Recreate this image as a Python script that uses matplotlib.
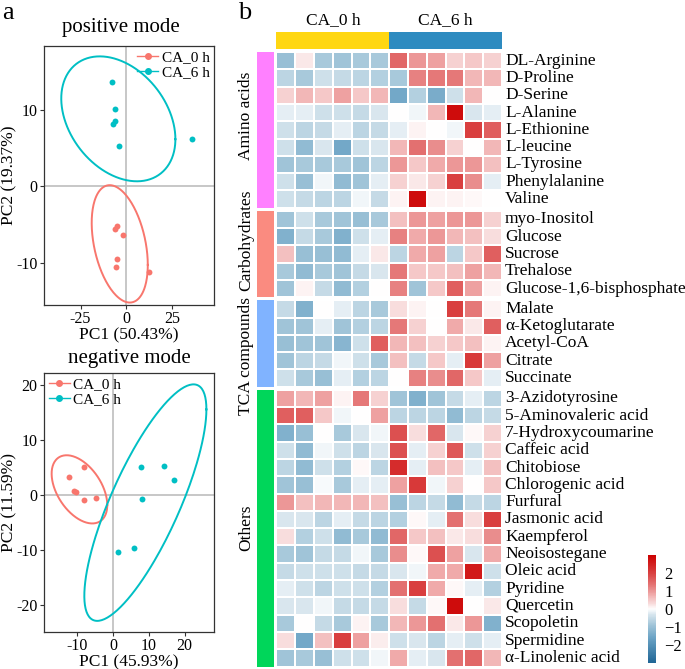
import numpy as np
import matplotlib
matplotlib.use("Agg")
import matplotlib.pyplot as plt
from matplotlib.colors import LinearSegmentedColormap
from matplotlib.lines import Line2D

plt.rcParams['font.family'] = ['Liberation Serif', 'DejaVu Serif']
plt.rcParams['axes.unicode_minus'] = False

# ---- PCA scores ----
pos_x_0h = [-4.9, -6.2, -2.0, -5.3, -5.5, 12.4]
pos_y_0h = [-5.2, -5.6, -6.4, -9.5, -10.6, -11.2]
pos_x_6h = [-7.6, -6.4, -6.2, -7.5, -4.2, 35.8]
pos_y_6h = [13.65, 10.1, 8.5, 8.1, 5.3, 6.2]

neg_x_0h = [-12.4, -8.1, -10.8, -10.25, -8.0, -4.9]
neg_y_0h = [3.1, 4.95, 0.73, 0.54, -1.03, -0.66]
neg_x_6h = [7.7, 14.35, 17.05, 8.1, 1.5, 5.8]
neg_y_6h = [4.95, 5.2, 2.66, -0.9, -10.5, -9.67]

# ---- heatmap ----
groups = ["Amino acids", "Carbohydrates", "TCA compounds", "Others"]
amino_names = ["DL-Arginine", "D-Proline", "D-Serine", "L-Alanine", "L-Ethionine",
               "L-leucine", "L-Tyrosine", "Phenylalanine", "Valine"]
amino_vals = [
    [-1.0, 0.2, -0.8, -0.9, -0.8, -0.8, 1.5, 1.0, 0.9, 0.4, 0.5, 0.4],
    [-0.6, -0.8, -0.4, -0.5, -0.6, -0.7, -0.8, 1.2, 1.3, 1.3, 0.7, 0.7],
    [0.4, 0.7, 0.5, 0.9, 0.5, 0.7, -1.5, -0.7, -1.4, -0.4, 0.7, 0.0],
    [-0.2, -0.2, -0.4, -0.4, -0.5, -0.3, 0.0, -0.1, 0.7, 2.8, -0.3, -0.2],
    [-0.4, -0.6, -0.5, -0.2, -0.6, -0.5, -0.2, 0.1, 0.0, -0.1, 2.0, 1.6],
    [-0.4, -1.1, -0.3, -1.5, -0.4, -0.3, 0.7, 1.4, 1.1, 0.4, 0.0, 0.7],
    [-0.9, -0.8, -0.8, -0.8, -0.9, -0.6, 1.0, 0.5, 0.8, 1.0, 1.0, 0.6],
    [-0.4, -1.0, -0.1, -1.1, -0.9, -0.2, 0.4, 0.2, 0.4, 2.0, 1.1, -0.2],
    [-0.4, -0.5, -0.6, -0.6, -0.1, -0.5, 0.1, 2.8, 0.1, 0.1, 0.05, 0.0],
]
carb_names = ["myo-Inositol", "Glucose", "Sucrose", "Trehalose", "Glucose-1,6-bisphosphate"]
carb_vals = [
    [-0.9, -0.4, -0.8, -0.9, -1.0, -0.8, 0.6, 1.0, 0.9, 1.0, 1.0, 0.4],
    [-1.3, -0.5, -0.8, -1.3, -0.4, -0.2, 1.2, 0.8, 1.0, 0.7, 0.6, 0.3],
    [0.6, -1.0, -1.0, -1.1, -0.2, 0.2, -0.6, 0.8, 0.9, -0.6, 0.5, 1.6],
    [-0.8, -1.1, -0.8, -0.9, -0.5, -0.3, 1.3, 0.5, 0.5, 0.6, 0.9, 0.7],
    [-0.9, 0.1, -0.5, -1.1, -0.7, 0.0, 1.2, -0.9, 0.5, 1.6, 0.9, 0.1],
]
tca_names = ["Malate", "α-Ketoglutarate", "Acetyl-CoA", "Citrate", "Succinate"]
tca_vals = [
    [-0.5, -1.3, 0.0, -0.2, -0.6, -0.8, 0.3, 0.1, 0.0, 2.0, 1.3, 0.1],
    [-0.9, -0.9, -0.2, -0.9, -0.7, -0.6, 1.3, 0.4, 0.0, 0.8, 0.2, 1.6],
    [-1.0, -0.9, -0.9, -1.2, -0.4, 1.6, 0.7, 0.6, 0.4, 0.5, 0.6, 0.1],
    [-0.9, -0.6, -0.5, -0.1, -0.4, -0.8, 0.6, -0.5, 0.5, -0.2, 2.1, 0.9],
    [-0.4, -0.8, -1.0, -0.2, -0.7, -0.6, 0.0, 1.2, 1.1, 1.5, 0.5, -0.2],
]
other_names = ["3-Azidotyrosine", "5-Aminovaleric acid", "7-Hydroxycoumarine", "Caffeic acid",
               "Chitobiose", "Chlorogenic acid", "Furfural", "Jasmonic acid", "Kaempferol",
               "Neoisostegane", "Oleic acid", "Pyridine", "Quercetin", "Scopoletin",
               "Spermidine", "α-Linolenic acid"]
other_vals = [
    [0.9, 0.7, 0.9, 0.1, 1.3, 0.4, -0.9, -1.3, -0.9, -0.5, -0.2, -0.6],
    [1.6, 1.6, 0.5, -0.1, 0.0, 0.9, -0.6, -0.6, -0.6, -1.1, -0.6, -0.5],
    [-1.3, -1.0, 0.0, -0.8, -0.3, -0.1, 1.8, 0.3, 1.5, -0.3, 0.05, 0.4],
    [-0.4, -1.1, -0.1, -0.4, -0.6, -0.3, 1.8, -0.2, 0.4, 1.7, -0.4, 0.4],
    [-0.6, -1.1, -0.4, -0.7, 0.05, -0.6, 2.3, -0.2, 0.6, 0.5, -0.2, 0.6],
    [-0.9, -1.0, -0.05, -0.8, -0.2, -0.2, 0.9, 2.1, -0.1, 0.4, 0.0, 0.5],
    [1.0, 0.6, 0.7, 0.7, 0.7, 0.6, -1.0, -0.6, -0.5, -1.1, -0.5, -0.6],
    [-0.3, -0.3, -0.6, -0.2, -0.5, -0.6, -0.7, 0.05, -0.2, 1.4, 0.3, 2.0],
    [0.3, -0.7, -0.4, -1.1, -0.8, -1.1, 1.5, 0.5, 0.6, 0.2, 0.3, 1.1],
    [-0.8, -0.9, -0.5, -0.5, -0.1, -0.8, 1.1, 0.05, 1.8, 0.9, -0.3, 0.8],
    [-0.5, -0.4, -0.4, -0.4, -0.5, -0.5, -0.3, -0.1, 0.8, 0.8, 2.6, -0.4],
    [-0.2, -0.4, -0.6, -0.4, -0.4, -0.7, 1.4, 2.0, 0.8, 0.05, -0.2, -0.7],
    [-0.3, -0.3, -0.1, -0.5, -0.5, -0.5, 0.3, -0.5, 0.05, 2.8, 0.0, 0.2],
    [-0.8, 0.0, -0.5, -0.8, 0.1, -0.8, 0.7, 1.0, 1.4, 0.2, 1.0, -1.3],
    [0.3, -1.5, 0.6, 2.0, 0.9, 0.15, -0.4, -0.3, -0.6, -0.2, -0.4, -0.2],
    [-0.9, -0.8, -1.0, -0.4, -0.4, -0.1, 0.8, -0.2, -0.3, 1.4, 1.5, 0.7],
]
col_groups = ["CA_0 h", "CA_6 h"]

RED = "#F8766D"
TEAL = "#00BFC4"
group_colors = ["#FF80FF", "#FA8B80", "#80B3FF", "#00D65A"]
col_colors = ["#FFD712", "#2E8BC0"]


def cov_trob(x, nu=5, maxit=25, tol=0.01):
    # MASS::cov.trob port (what ggplot's stat_ellipse uses)
    n, p = x.shape
    wt = np.ones(n)
    loc = x.mean(0)
    w = np.sqrt(wt)
    for _ in range(maxit):
        w0 = w
        X = x - loc
        _, d, vt = np.linalg.svd(np.sqrt(w / w.sum())[:, None] * X, full_matrices=False)
        wX = X @ vt.T @ np.diag(1 / d)
        Q = (wX ** 2).sum(1)
        w = wt * (nu + p) / (nu + Q)
        loc = (w[:, None] * x).sum(0) / w.sum()
        if np.all(np.abs(w - w0) < tol):
            break
    sX = np.sqrt(w)[:, None] * X
    return loc, sX.T @ sX / wt.sum()


def ellipse(xs, ys, level=0.95):
    pts = np.column_stack([xs, ys])
    center, shape = cov_trob(pts)
    d2 = len(xs) - 1
    qf = d2 / 2 * ((1 - level) ** (-2 / d2) - 1)
    radius = np.sqrt(2 * qf)
    a = np.linspace(0, 2 * np.pi, 200)
    circ = np.column_stack([np.cos(a), np.sin(a)])
    L = np.linalg.cholesky(shape)
    e = center + radius * circ @ L.T
    return e[:, 0], e[:, 1]


def pca_panel(ax, x0, y0, x6, y6, title, xlab, ylab, xlim, ylim, xticks, yticks,
              legloc, title_x=0.5, title_pad=7):
    ax.axhline(0, color="#BEBEBE", lw=1.2, zorder=0)
    ax.axvline(0, color="#BEBEBE", lw=1.2, zorder=0)
    for xs, ys, c in [(x0, y0, RED), (x6, y6, TEAL)]:
        ex, ey = ellipse(xs, ys)
        ax.plot(ex, ey, color=c, lw=1.4)
        ax.scatter(xs, ys, color=c, s=18, zorder=3, linewidths=0)
    ax.set_xlim(*xlim)
    ax.set_ylim(*ylim)
    ax.set_xticks(xticks)
    ax.set_yticks(yticks)
    ax.tick_params(labelsize=11.5, length=3, color="#333333", width=0.8, pad=1.5)
    for s in ax.spines.values():
        s.set_color("#333333")
        s.set_linewidth(0.9)
    ax.set_title(title, fontsize=15, pad=title_pad, x=title_x)
    ax.set_xlabel(xlab, fontsize=12.5, labelpad=0)
    ax.set_ylabel(ylab, fontsize=12.5, labelpad=-1)
    handles = [Line2D([], [], color=RED, marker="o", ms=4, lw=1),
               Line2D([], [], color=TEAL, marker="o", ms=4, lw=1)]
    ax.legend(handles, ["CA_0 h", "CA_6 h"], loc=legloc, frameon=False, fontsize=11,
              handlelength=1.4, handletextpad=0.2, labelspacing=0.1, borderaxespad=0.2,
              borderpad=0.1)


fig = plt.figure(figsize=(6.85, 6.69), dpi=100)
W, H = 685.0, 669.0


def box(l, t, r, b):
    return [l / W, 1 - b / H, (r - l) / W, (b - t) / H]


ax1 = fig.add_axes(box(44, 46, 214, 305))
pca_panel(ax1, pos_x_0h, pos_y_0h, pos_x_6h, pos_y_6h, "positive mode",
          "PC1 (50.43%)", "PC2 (19.37%)", (-45, 48), (-15.5, 18.3),
          [-25, 0, 25], [-10, 0, 10], "upper right", title_x=0.45, title_pad=10)
ax2 = fig.add_axes(box(44, 373, 214, 632))
pca_panel(ax2, neg_x_0h, neg_y_0h, neg_x_6h, neg_y_6h, "negative mode",
          "PC1 (45.93%)", "PC2 (11.59%)", (-19.3, 28.2), (-25, 22.1),
          [-10, 0, 10, 20], [-20, -10, 0, 10, 20], "upper left")

fig.text(2 / W, 1 - 13 / H, "a", fontsize=19, va="center", ha="left")
fig.text(238 / W, 1 - 13 / H, "b", fontsize=19, va="center", ha="left")

# ---- heatmap ----
cmap = LinearSegmentedColormap.from_list("hm", [
    (0.0, "#1F6595"), (1.4 / 6, "#6BA3C5"), (2.1 / 6, "#A0C4D8"), (2.7 / 6, "#D8E6EE"),
    (0.5, "#FFFFFF"), (3.3 / 6, "#F8DCDC"), (3.7 / 6, "#F2B6B6"), (4.3 / 6, "#E57878"),
    (5.0 / 6, "#D94040"), (1.0, "#CC0000")])
vmin, vmax = -3, 3

all_names = [amino_names, carb_names, tca_names, other_names]
all_vals = [amino_vals, carb_vals, tca_vals, other_vals]
group_label_y = [116, 240, 356, 528]   # labels are nudged apart like in the original
row_h = 17.3
gap = 3.0
hx0, hx1 = 276.5, 502.0
top0 = 52.0

axh = fig.add_axes([0, 0, 1, 1])
axh.set_xlim(0, W)
axh.set_ylim(H, 0)
axh.axis("off")

ncol = len(amino_vals[0])
xe = np.linspace(hx0, hx1, ncol + 1)
y = top0
for gi, (names, vals) in enumerate(zip(all_names, all_vals)):
    nr = len(vals)
    ye = y + row_h * np.arange(nr + 1)
    axh.pcolormesh(xe, ye, np.array(vals), cmap=cmap, vmin=vmin, vmax=vmax,
                   edgecolor="white", linewidth=0.3)
    # left group annotation
    axh.fill_between([257, 274], ye[0], ye[-1], color=group_colors[gi], lw=0)
    axh.text(246, group_label_y[gi], groups[gi], rotation=90, ha="center",
             va="center", fontsize=12.5)
    for ri, nm in enumerate(names):
        axh.text(hx1 + 3, (ye[ri] + ye[ri + 1]) / 2, nm, ha="left", va="center",
                 fontsize=12.5)
    y = ye[-1] + gap

# column annotation
half = ncol // 2
for ci, lab in enumerate(col_groups):
    xa, xb = xe[ci * half], xe[(ci + 1) * half]
    axh.fill_between([xa, xb], 32, 49, color=col_colors[ci], lw=0)
    axh.text((xa + xb) / 2, 20, lab, ha="center", va="center", fontsize=12.5)

# colorbar
cax = fig.add_axes(box(648, 555, 656, 663))
sm = plt.cm.ScalarMappable(cmap=cmap, norm=plt.Normalize(vmin, vmax))
cb = fig.colorbar(sm, cax=cax)
cb.outline.set_visible(False)
cb.set_ticks([-2, -1, 0, 1, 2])
cb.set_ticklabels(["\u22122", "\u22121", "0", "1", "2"])
cax.tick_params(length=0, labelsize=12, pad=6)

fig.savefig("out.png", dpi=100)
